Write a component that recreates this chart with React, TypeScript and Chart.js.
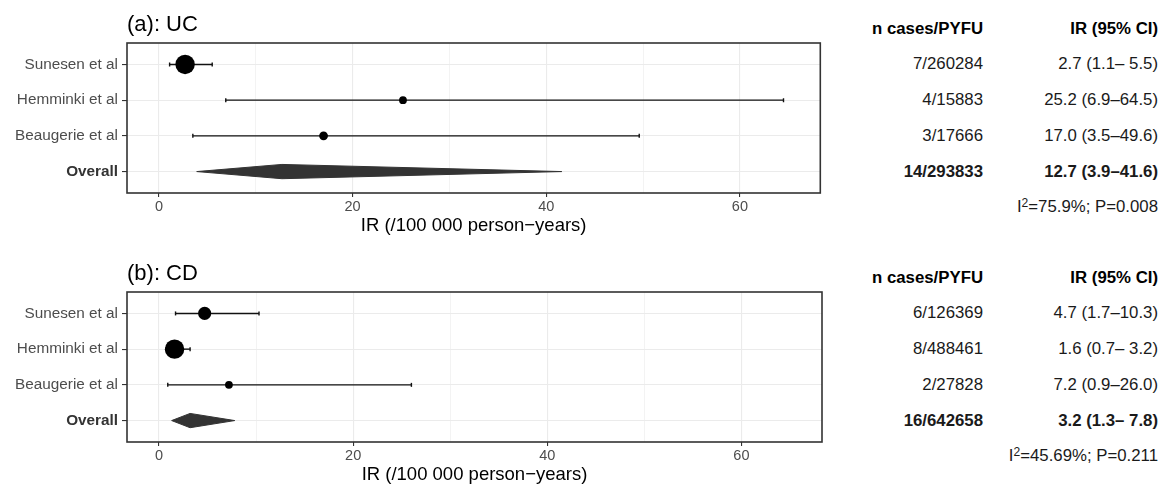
import React, { useEffect, useRef } from 'react';
import { Chart, registerables } from 'chart.js';

Chart.register(...registerables);

// ---------------- data ----------------
const STUDY_LABELS = ['Sunesen et al', 'Hemminki et al', 'Beaugerie et al'];
const OVERALL_LABEL = 'Overall';
const COL_CASES = 'n cases/PYFU';
const COL_IR = 'IR (95% CI)';
const X_TITLE = 'IR (/100 000 person\u2212years)';
const X_TICKS = [0, 10, 20, 30, 40, 50, 60];
const X_LABEL_EVERY = 20;
const X_MIN = -3.3;
const X_MAX = 68.3;

// (a) UC
const UC_TITLE = '(a): UC';
const UC_CASES = [7, 4, 3];
const UC_PYFU = [260284, 15883, 17666];
const UC_IR = [2.7, 25.2, 17.0];
const UC_LO = [1.1, 6.9, 3.5];
const UC_HI = [5.5, 64.5, 49.6];
const UC_OVERALL = [14, 293833, 12.7, 3.9, 41.6]; // cases, pyfu, ir, lo, hi
const UC_I2 = '75.9';
const UC_P = '0.008';

// (b) CD
const CD_TITLE = '(b): CD';
const CD_CASES = [6, 8, 2];
const CD_PYFU = [126369, 488461, 27828];
const CD_IR = [4.7, 1.6, 7.2];
const CD_LO = [1.7, 0.7, 0.9];
const CD_HI = [10.3, 3.2, 26.0];
const CD_OVERALL = [16, 642658, 3.2, 1.3, 7.8];
const CD_I2 = '45.69';
const CD_P = '0.211';

// ---------------- layout / style ----------------
const W = 1165;
const H = 489;
const CANVAS_W = 830;
const PANEL_H = 240;
const PANEL_STEP = 249;
const PLOT_LEFT = 127;
const PLOT_RIGHT = 822;
const PLOT_TOP = 43;
const PLOT_BOTTOM = 193;
const Y_MIN = 0.4;
const Y_MAX = 4.6;
const DIAMOND_HALF = 0.2;
const R_MIN = 3.9;
const R_MAX = 9.7;
const FONT = '"Liberation Sans", Arial, Helvetica, sans-serif';
const COL1_RIGHT = 983;
const COL2_RIGHT = 1158;
const TABLE_FS = 16.8;

const fmt = (ir: number, lo: number, hi: number) =>
  `${ir.toFixed(1)} (${lo.toFixed(1)}\u2013${hi.toFixed(1).padStart(4)})`;

const rowY = (v: number) => PLOT_TOP + ((v - Y_MIN) / (Y_MAX - Y_MIN)) * (PLOT_BOTTOM - PLOT_TOP);

const framePlugin = {
  id: 'frame',
  afterDatasetsDraw(chart: any) {
    const { ctx, chartArea } = chart;
    const { left, top, right, bottom } = chartArea;
    ctx.save();
    ctx.strokeStyle = '#333333';
    ctx.lineWidth = 1.6;
    ctx.strokeRect(left, top, right - left, bottom - top);
    ctx.restore();
  },
};

type PanelProps = {
  top: number;
  title: string;
  cases: number[];
  pyfu: number[];
  ir: number[];
  lo: number[];
  hi: number[];
  overall: number[];
  i2: string;
  p: string;
};

function Panel(props: PanelProps) {
  const ref = useRef<HTMLCanvasElement | null>(null);
  const { top, title, cases, pyfu, ir, lo, hi, overall, i2, p } = props;

  useEffect(() => {
    if (!ref.current) return;
    const yLabels = [...STUDY_LABELS, OVERALL_LABEL];
    const overallRow = yLabels.length;
    const minP = Math.min(...pyfu);
    const maxP = Math.max(...pyfu);
    const radius = pyfu.map((v) => R_MIN + (R_MAX - R_MIN) * Math.sqrt((v - minP) / (maxP - minP)));
    const [, , oIR, oLo, oHi] = overall;

    const datasets: any[] = [
      {
        type: 'line',
        data: ir.map((v, i) => ({ x: v, y: i + 1 })),
        showLine: false,
        pointRadius: radius,
        pointHoverRadius: radius,
        pointBackgroundColor: '#000000',
        pointBorderColor: '#000000',
        pointBorderWidth: 0,
        order: 0,
      },
      ...ir.map((_, i) => ({
        type: 'line',
        data: [
          { x: lo[i], y: i + 1 },
          { x: hi[i], y: i + 1 },
        ],
        borderColor: '#111111',
        borderWidth: 1.4,
        pointStyle: 'line',
        pointRotation: 90,
        pointRadius: 2,
        pointHoverRadius: 2,
        pointBorderColor: '#111111',
        pointBorderWidth: 1.4,
        fill: false,
        order: 1,
      })),
      {
        type: 'line',
        data: [
          { x: oLo, y: overallRow },
          { x: oIR, y: overallRow - DIAMOND_HALF },
          { x: oHi, y: overallRow },
          { x: oIR, y: overallRow + DIAMOND_HALF },
          { x: oLo, y: overallRow },
        ],
        borderColor: '#333333',
        backgroundColor: '#333333',
        borderWidth: 1,
        pointRadius: 0,
        tension: 0,
        fill: 'shape',
        order: 1,
      },
    ];

    const chart = new Chart(ref.current, {
      type: 'line',
      data: { datasets },
      plugins: [framePlugin],
      options: {
        animation: false,
        responsive: false,
        devicePixelRatio: 1,
        events: [],
        layout: { padding: { top: PLOT_TOP, right: CANVAS_W - PLOT_RIGHT, bottom: 0, left: 0 } },
        plugins: { legend: { display: false }, tooltip: { enabled: false }, title: { display: false } },
        scales: {
          x: {
            type: 'linear',
            min: X_MIN,
            max: X_MAX,
            afterBuildTicks: (s: any) => {
              s.ticks = X_TICKS.map((v) => ({ value: v }));
            },
            afterFit: (s: any) => {
              s.height = PANEL_H - PLOT_BOTTOM;
            },
            border: { display: false },
            grid: {
              color: '#EBEBEB',
              lineWidth: (c: any) => (c.tick && c.tick.value % X_LABEL_EVERY === 0 ? 1.1 : 0.6),
              tickColor: (c: any) => (c.tick && c.tick.value % X_LABEL_EVERY === 0 ? '#333333' : 'rgba(0,0,0,0)'),
              tickLength: 4,
              drawTicks: true,
            },
            ticks: {
              autoSkip: false,
              maxRotation: 0,
              padding: 1,
              color: '#4D4D4D',
              font: { family: FONT, size: 14.5 },
              callback: (v: any) => (Number(v) % X_LABEL_EVERY === 0 ? String(v) : ''),
            },
            title: {
              display: true,
              text: X_TITLE,
              color: '#000000',
              font: { family: FONT, size: 18.5 },
              padding: { top: 0, bottom: 2.5 },
            },
          },
          y: {
            type: 'linear',
            reverse: true,
            min: Y_MIN,
            max: Y_MAX,
            afterBuildTicks: (s: any) => {
              s.ticks = yLabels.map((_, i) => ({ value: i + 1 }));
            },
            afterFit: (s: any) => {
              s.width = PLOT_LEFT;
            },
            border: { display: false },
            grid: {
              color: '#EBEBEB',
              lineWidth: 1.1,
              tickColor: '#333333',
              tickLength: 5,
              drawTicks: true,
            },
            ticks: {
              autoSkip: false,
              padding: 4,
              color: (c: any) => (c.tick && c.tick.value === overallRow ? '#333333' : '#4D4D4D'),
              font: (c: any) => ({
                family: FONT,
                size: 15.3,
                weight: c.tick && c.tick.value === overallRow ? 'bold' : 'normal',
              }),
              callback: (_v: any, i: number) => yLabels[i],
            },
          },
        },
      } as any,
    });
    return () => chart.destroy();
  }, []);

  const textBase: React.CSSProperties = {
    position: 'absolute',
    transform: 'translateY(-50%)',
    fontFamily: FONT,
    fontSize: TABLE_FS,
    lineHeight: `${TABLE_FS}px`,
    whiteSpace: 'pre',
    color: '#1a1a1a',
  };

  const rows = ir.map((v, i) => ({
    c: `${cases[i]}/${pyfu[i]}`,
    r: fmt(v, lo[i], hi[i]),
    y: rowY(i + 1),
    bold: false,
  }));
  rows.push({
    c: `${overall[0]}/${overall[1]}`,
    r: fmt(overall[2], overall[3], overall[4]),
    y: rowY(STUDY_LABELS.length + 1),
    bold: true,
  });

  return (
    <div style={{ position: 'absolute', left: 0, top, width: W, height: PANEL_H }}>
      <canvas ref={ref} width={CANVAS_W} height={PANEL_H} style={{ display: 'block', width: CANVAS_W, height: PANEL_H }} />
      <div
        style={{
          position: 'absolute',
          left: PLOT_LEFT,
          top: 24,
          transform: 'translateY(-50%)',
          fontFamily: FONT,
          fontSize: 22,
          lineHeight: '22px',
          whiteSpace: 'pre',
          color: '#000',
        }}
      >
        {title}
      </div>
      <div style={{ ...textBase, right: W - COL1_RIGHT, top: rowY(0), fontWeight: 'bold', color: '#000' }}>{COL_CASES}</div>
      <div style={{ ...textBase, right: W - COL2_RIGHT, top: rowY(0), fontWeight: 'bold', color: '#000' }}>{COL_IR}</div>
      {rows.map((r, i) => (
        <React.Fragment key={i}>
          <div style={{ ...textBase, right: W - COL1_RIGHT, top: r.y, fontWeight: r.bold ? 'bold' : 'normal' }}>{r.c}</div>
          <div style={{ ...textBase, right: W - COL2_RIGHT, top: r.y, fontWeight: r.bold ? 'bold' : 'normal' }}>{r.r}</div>
        </React.Fragment>
      ))}
      <div style={{ ...textBase, right: W - COL2_RIGHT, top: rowY(STUDY_LABELS.length + 2) }}>
        I<span style={{ position: 'relative', top: '-0.42em', fontSize: '0.72em', lineHeight: 0 }}>2</span>
        {`=${i2}%; P=${p}`}
      </div>
    </div>
  );
}

export default function App() {
  return (
    <div style={{ position: 'absolute', left: 0, top: 0, width: W, height: H, background: '#fff', overflow: 'hidden' }}>
      <Panel
        top={0}
        title={UC_TITLE}
        cases={UC_CASES}
        pyfu={UC_PYFU}
        ir={UC_IR}
        lo={UC_LO}
        hi={UC_HI}
        overall={UC_OVERALL}
        i2={UC_I2}
        p={UC_P}
      />
      <Panel
        top={PANEL_STEP}
        title={CD_TITLE}
        cases={CD_CASES}
        pyfu={CD_PYFU}
        ir={CD_IR}
        lo={CD_LO}
        hi={CD_HI}
        overall={CD_OVERALL}
        i2={CD_I2}
        p={CD_P}
      />
    </div>
  );
}
